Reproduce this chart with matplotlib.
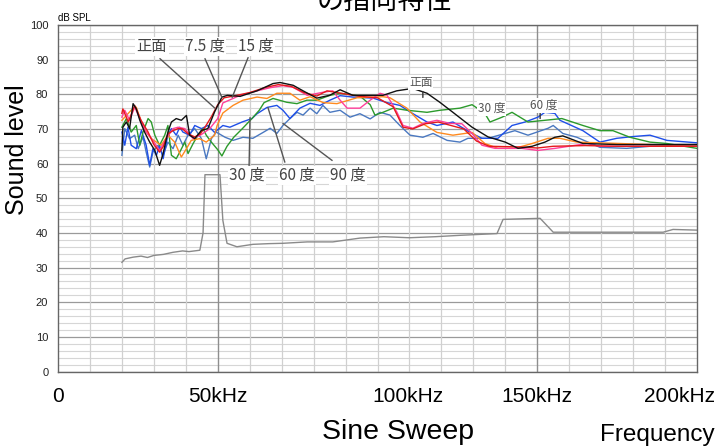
import matplotlib
matplotlib.use('Agg')
import matplotlib.pyplot as plt
import numpy as np

W, H, DPI = 718, 446, 100

# ---------------- data (kHz, dB SPL) ----------------
freq_black = [20, 20.3, 21.4, 22.4, 23.5, 24.5, 25.6, 27.1, 28.7, 30.3, 31.8, 32.9, 34.4, 35.5, 37, 38.6,
              40.2, 41.2, 42.8, 44.9, 46.9, 49, 51.3, 53, 57, 62.3, 67.3, 69.5, 73.6, 76.7, 81, 85, 88.3,
              92.3, 101.7, 106, 111, 115.5, 119.5, 123.6, 129.6, 134.6, 140, 144, 148.4, 152.4, 155.5, 158,
              164.3, 175, 200]
lvl_black = [63.8, 70.5, 72, 70.1, 77.3, 75.8, 72.5, 69.1, 66.2, 63.8, 59.5, 62.9, 69.1, 72, 73, 72.5,
             73.9, 68.2, 67.2, 69.6, 70.1, 74.9, 79.2, 79.7, 79.4, 81, 83.1, 83.4, 82.6, 81, 78.9, 79.7, 81.3,
             79.7, 79.7, 81, 81.7, 80.3, 77.7, 74.8, 70.5, 67.7, 66.2, 64.4, 65, 66.2, 67.6, 68,
             65.8, 65.5, 65.5]

freq_red = [20, 20.3, 22, 24, 26, 28.2, 30, 31.8, 33, 34.4, 36, 37.6, 39, 40.7, 42.8, 44.5, 46, 48, 50, 52,
            55, 60, 65, 69, 73, 77, 81, 84.2, 87.3, 94.5, 100, 104.9, 108, 111, 115, 119, 123, 127, 131,
            135, 145, 150, 155, 165, 175, 200]
lvl_red = [74.5, 75.8, 72, 76.8, 72.5, 69.1, 65.5, 63.3, 65, 68.6, 69.5, 70.1, 70, 68.6, 67.7, 68.5, 70.5,
           73.5, 77, 79, 79.5, 80.5, 82, 82.8, 82.3, 80.5, 79.5, 81, 80.5, 79.4, 79, 76.4, 70.5, 70, 71.5,
           72, 71, 70, 66.5, 65, 64.8, 64.5, 65, 65.2, 65, 65]

freq_pink = [20, 20.9, 22.4, 24, 25.6, 27.6, 29.7, 31.8, 33.9, 36, 37.6, 39.7, 42.3, 44.9, 47.5, 50, 51.6,
             57, 62.3, 66.4, 70.4, 73.6, 78, 83, 86, 88.3, 90.5, 94.5, 97.7, 100.8, 103, 106.1, 108, 111.1,
             114.2, 118.6, 122.7, 126.4, 129.6, 132.7, 136.8, 145.2, 150.2, 155.6, 165.6, 169.6, 200]
lvl_pink = [73.4, 75.4, 72.5, 76.3, 73, 69.1, 66.7, 63.8, 67.2, 70.1, 70.5, 70.1, 67.2, 68.4, 70.1, 73, 77.5,
            79.7, 81, 81.9, 82.5, 82, 79.7, 80.6, 81, 78.3, 76, 76, 78.3, 80.3, 79.7, 74.8, 71, 70.2,
            71.6, 72.5, 71.6, 71.5, 68.7, 65.3, 64.4, 64.4, 63.8, 64.4, 65.8, 65, 65]

freq_orange = [20, 22.9, 24.5, 26.6, 29.2, 32.3, 34.4, 36.5, 38.6, 40.2, 41.7, 44.3, 46.4, 49, 49.8, 51.6,
               54.8, 57.9, 62.3, 65.4, 68.5, 72.6, 75.7, 78.9, 83, 87.3, 93.6, 101.7, 103.9, 109.2, 113.3,
               118.6, 123.6, 129.6, 133.6, 137.7, 143, 148.4, 153.4, 157.1, 162.4, 175.9, 200]
lvl_orange = [72.5, 75.4, 76.3, 70.5, 67.2, 65.3, 68.2, 66.2, 61.9, 64.3, 66.7, 67.2, 66.2, 68.2, 71, 74.6,
              76.8, 78.3, 79.2, 78.8, 80.3, 80.3, 78.3, 79.3, 77.6, 77.3, 79, 79.3, 79, 76, 72,
              69, 68.2, 69, 65.8, 64.4, 64.4, 65.8, 67.3, 67.3, 66.2, 65.8, 65]

freq_green = [20, 21.4, 22.9, 24.5, 25.6, 26.6, 28.2, 29.2, 30.3, 31.8, 33.4, 34.4, 35.5, 37, 38.1, 39.7,
              40.7, 42.3, 43.8, 45.4, 46.4, 48, 50, 51.3, 52.9, 55, 57.6, 60.7, 63, 64.5, 67.3, 71.6, 74.8,
              77.9, 81, 85.1, 88.3, 94.5, 97.7, 99.2, 101.7, 104.9, 109.2, 115.5, 119.6, 125.8, 129.6,
              133.6, 135.2, 139, 142.1, 147.1, 152.4, 157.7, 164.3, 169.6, 173.7, 179, 185.3, 190.6, 200]
lvl_green = [70.5, 73, 69.1, 71, 65.3, 69.1, 73, 72, 68.2, 65.3, 68.2, 71, 62.4, 61.4, 63.3, 66.2,
             62.9, 65.8, 68.2, 70.1, 68.2, 66.2, 64, 62.2, 65, 67.6, 70, 73, 75.4, 77.6, 78.8, 77.7, 77.3,
             78.3, 78.3, 79.7, 80.3, 79.5, 77, 74, 74.8, 76, 75.4, 74.8, 75.4, 76, 77,
             74.5, 72, 73.4, 74.8, 72, 72.5, 73, 71, 69.5, 69.5, 67.6, 66.2, 65.8, 64.4]

freq_blue = [20, 20.9, 21.9, 22.9, 24.5, 26.1, 27.6, 28.7, 29.7, 30.8, 31.8, 32.9, 34.4, 35.5, 37, 38.1,
             39.1, 41.2, 42.8, 44.9, 46.9, 49, 51.6, 53.8, 57.6, 60.7, 62.3, 65.4, 68.5, 70.4, 72.6, 75.7,
             78.9, 82, 85.1, 88.3, 92.3, 98.6, 103, 107, 111.1, 115.5, 118.6, 123.6, 129.6, 132.7, 137.7,
             142.1, 146.2, 150.2, 152.4, 155.5, 157.1, 164.3, 169.6, 174.9, 179.9, 185.3, 190.6, 200]
lvl_blue = [69.1, 65.3, 70.5, 65.3, 64.3, 69.6, 65.3, 59.5, 64.3, 62.4, 65.3, 61.4, 68.2, 70.1, 68.2, 70.5,
            69.1, 68.2, 71, 70.1, 71, 69, 71, 70.5, 72, 73, 74.4, 76.2, 76.8, 75.4, 73, 76,
            77.4, 76.8, 78.3, 79.6, 79.2, 78.9, 77.6, 76.8, 74.4, 72, 71, 72, 68.7, 67.3, 67.3,
            71, 72, 73.4, 74.8, 74.5, 72.5, 69.5, 66.2, 67.3, 67.8, 68.2, 66.7, 66]

freq_steel = [20, 20.9, 22.4, 24, 25.1, 26.6, 27.6, 28.7, 29.7, 31.3, 32.9, 34.4, 36, 37.6, 39.1, 40.7,
              42.8, 44.9, 46.4, 48, 49.5, 52.3, 54.8, 57.9, 61, 64.2, 66.4, 68.5, 70.4, 72.6, 74.8, 76.7,
              78.9, 81, 82.9, 85.1, 88.3, 91.4, 94.5, 97.7, 100.8, 103.9, 107, 110.2, 114.2, 117.4, 121.8,
              125.8, 128.3, 134.6, 143, 147.1, 153.4, 155, 158, 162.4, 169.6, 178, 185.3, 200]
lvl_steel = [62.4, 70.1, 67.2, 68.2, 64.3, 67.7, 63.3, 59, 63.3, 65.3, 62.4, 66.2, 64.3, 68.2, 65.3, 68.2,
             70.1, 67.2, 61.4, 67.2, 69.1, 67.6, 66.7, 67.6, 67.3, 69, 70.2, 68.7, 71, 73, 74.8, 74,
             76, 74.4, 76.8, 74.8, 75.4, 73.4, 74.4, 72.9, 74.8, 74, 71, 68.2, 67.6, 68.7, 66.7,
             66.2, 67.3, 67.3, 69.5, 68.2, 70.2, 71, 68.7, 67.6, 64.7, 64.4, 65, 65]

freq_noise = [20, 21, 23.5, 26, 28, 30, 33, 36, 39, 41, 44.4, 45.4, 46, 50.7, 51.6, 52.9, 56, 61, 66, 70.4,
              78, 86, 94.5, 102, 110, 118, 125.8, 137.4, 139.3, 150.9, 155, 169.6, 189.4, 192.5, 200]
lvl_noise = [31.5, 32.5, 33, 33.3, 32.9, 33.5, 33.8, 34.4, 34.8, 34.6, 35, 40, 56.8, 56.8, 43.6, 37, 36,
             36.7, 36.9, 37, 37.4, 37.4, 38.5, 38.9, 38.6, 38.9, 39.3, 39.8, 43.9, 44.2, 40.2, 40.2, 40.2,
             41, 40.8]

xtick_pos = [0, 50, 109.5, 150, 194.4]
xtick_labels = ['0', '50kHz', '100kHz', '150kHz', '200kHz']
ytick_vals = list(range(0, 101, 10))

# annotation labels: (text, label x, label y, leader start, leader end)
big_labels = [
    ('正面', 29.4, 93.8, (31.9, 90.3), (49.1, 76.0)),
    ('7.5 度', 46.0, 93.8, (46.0, 90.3), (51.3, 79.1)),
    ('15 度', 62.0, 93.8, (59.5, 90.6), (54.5, 79.1)),
    ('30 度', 59.2, 56.6, (59.8, 58.9), (60.1, 73.3)),
    ('60 度', 74.8, 56.6, (71.0, 60.4), (65.7, 76.2)),
    ('90 度', 90.8, 56.6, (85.8, 60.9), (70.4, 71.6)),
]
small_labels = [
    ('正面', 113.6, 83.4, (114.2, 80.8), (114.2, 79.1)),
    ('30 度', 135.8, 75.9, None, None),
    ('60 度', 152.1, 76.8, (150.9, 74.5), (150.9, 73.0)),
]

# ---------------- figure ----------------
fig = plt.figure(figsize=(W / DPI, H / DPI), dpi=DPI)
fig.patch.set_facecolor('white')
L, R, T, B = 58, 697, 25, 371.5
ax = fig.add_axes([L / W, (H - B) / H, (R - L) / W, (B - T) / H])
ax.set_xlim(0, 200)
ax.set_ylim(0, 100)

# grid
ax.set_yticks(ytick_vals)
ax.set_yticks(np.arange(0, 101, 2), minor=True)
ax.yaxis.grid(True, which='minor', color='#d6d6d6', lw=0.8)
ax.yaxis.grid(True, which='major', color='#9a9a9a', lw=0.9)
ax.set_axisbelow(True)
for f in np.arange(10, 200, 10):
    dark = f in (50, 150)
    ax.axvline(f, color='#8e8e8e' if dark else '#d0d0d0', lw=1.0 if dark else 0.9, zorder=0.6)

ax.set_xticks(xtick_pos)
ax.set_xticklabels(xtick_labels, fontsize=15, family='Liberation Sans')
ax.set_yticklabels([str(v) for v in ytick_vals], fontsize=8, family='Liberation Sans', color='#222')
ax.tick_params(which='both', length=0)
ax.tick_params(axis='x', pad=11)
ax.tick_params(axis='y', pad=7)
for s in ax.spines.values():
    s.set_color('#666666')
    s.set_linewidth(1.0)

# curves
ax.plot(freq_noise, lvl_noise, color='#8a8a8a', lw=1.0, zorder=2)
ax.plot(freq_steel, lvl_steel, color='#4a78c0', lw=1.0, zorder=3)
ax.plot(freq_blue, lvl_blue, color='#1f4fe8', lw=1.0, zorder=3)
ax.plot(freq_green, lvl_green, color='#2c9a2c', lw=1.0, zorder=3)
ax.plot(freq_orange, lvl_orange, color='#ff8a1e', lw=1.0, zorder=3)
ax.plot(freq_pink, lvl_pink, color='#ff3f9a', lw=1.0, zorder=3)
ax.plot(freq_red, lvl_red, color='#e41a1c', lw=1.0, zorder=3)
ax.plot(freq_black, lvl_black, color='#111111', lw=1.0, zorder=4)

cjk = ['Noto Sans CJK JP', 'DejaVu Sans']
for txt, x, y, p0, p1 in big_labels:
    ax.annotate('', xy=p1, xytext=p0, arrowprops=dict(arrowstyle='-', color='#555555', lw=1.0,
                                                      shrinkA=0, shrinkB=0), zorder=5)
    ax.text(x, y, txt, family=cjk, fontsize=11, color='#444444', ha='center', va='center', zorder=6,
            bbox=dict(facecolor='white', edgecolor='none', pad=1.0))
for txt, x, y, p0, p1 in small_labels:
    if p0 is not None:
        ax.annotate('', xy=p1, xytext=p0, arrowprops=dict(arrowstyle='-', color='#333333', lw=1.0,
                                                          shrinkA=0, shrinkB=0), zorder=5)
    ax.text(x, y, txt, family=cjk, fontsize=8.5, color='#555555', ha='center', va='center', zorder=6,
            bbox=dict(facecolor='white', edgecolor='none', pad=0.5))

# outer texts
fig.text(L / W, (H - 21) / H, 'dB SPL', fontsize=7, family='Liberation Sans', ha='left', va='baseline')
fig.text(17 / W, (H - 150) / H, 'Sound level', fontsize=18, family='Liberation Sans', rotation=90,
         ha='center', va='center')
fig.text(317 / W, (H - 9) / H, 'の指向特性', fontsize=19.5, family=cjk, ha='left', va='baseline')
fig.text(322 / W, (H - 439) / H, 'Sine Sweep', fontsize=20.5, family='Liberation Sans', ha='left', va='baseline')
fig.text(600 / W, (H - 441) / H, 'Frequency', fontsize=17.5, family='Liberation Sans', ha='left', va='baseline')

fig.savefig('out.png', dpi=DPI, facecolor='white')
